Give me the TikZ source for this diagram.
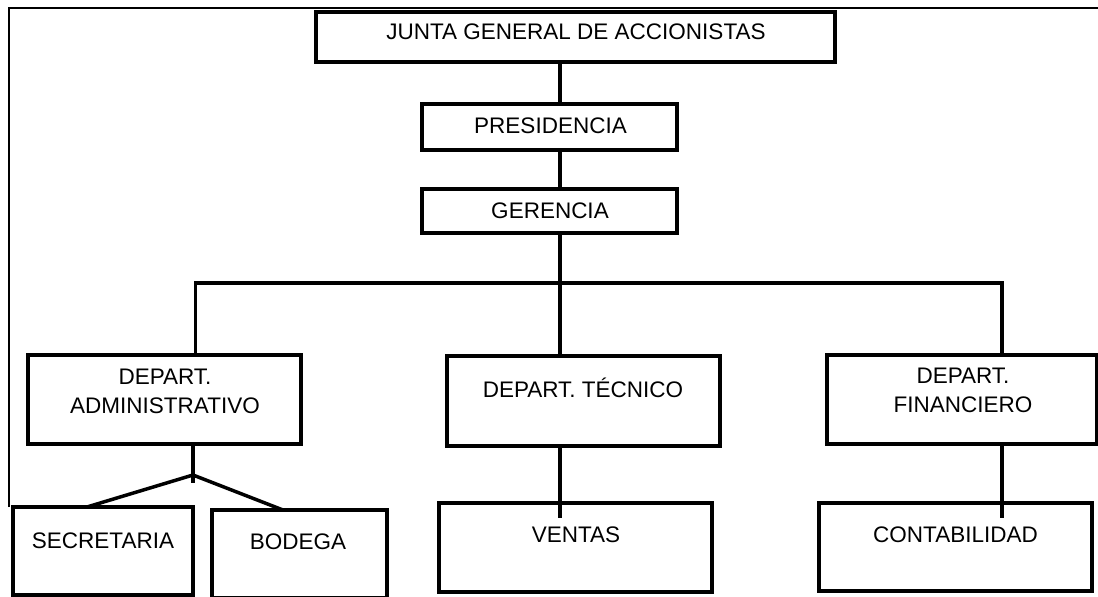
\documentclass[tikz,border=0pt]{standalone}
\usepackage{fontspec}
\setmainfont{Liberation Sans}
\begin{document}
\begin{tikzpicture}[x=1pt,y=-1pt,
  box/.style={draw,line width=3.5pt,inner sep=0pt,outer sep=0pt},
  lbl/.style={inner sep=0pt,outer sep=0pt,align=center,font=\fontsize{22.5}{29}\selectfont},
  link/.style={line width=3.5pt},
  frame/.style={line width=2pt}]
\useasboundingbox (0,0) rectangle (1098,597);
% outer frame (top and left only)
\coordinate (fTL) at (8.8,8.3);
\coordinate (fTR) at (1098,8.3);
\coordinate (fBL) at (8.8,507);
\draw[frame] (fBL) -- (fTL) -- (fTR);
% boxes
\node[box,minimum width=519pt,minimum height=50pt] (junta) at (575.5,37) {};
\node[box,minimum width=255pt,minimum height=46pt] (pres) at (549.5,127) {};
\node[box,minimum width=255pt,minimum height=44pt] (ger) at (549.5,211) {};
\node[box,minimum width=273pt,minimum height=89pt] (admin) at (164.5,399.5) {};
\node[box,minimum width=273pt,minimum height=90pt] (tec) at (583.5,401) {};
\node[box,minimum width=270pt,minimum height=89pt] (fin) at (962,399.5) {};
\node[box,minimum width=180pt,minimum height=88pt] (sec) at (103,551) {};
\node[box,minimum width=175pt,minimum height=88pt] (bod) at (299.5,554) {};
\node[box,minimum width=273pt,minimum height=89pt] (ven) at (575.5,547.5) {};
\node[box,minimum width=273pt,minimum height=88pt] (con) at (955.5,547) {};
% texts
\node[lbl] (juntaT) at (576,32) {JUNTA GENERAL DE ACCIONISTAS};
\node[lbl] (presT) at (550.5,126) {PRESIDENCIA};
\node[lbl] (gerT) at (550,211) {GERENCIA};
\node[lbl] (adminT) at (165,391.5) {DEPART.\\ADMINISTRATIVO};
\node[lbl] (tecT) at (583,388) {DEPART. TÉCNICO};
\node[lbl] (finT) at (963,390.5) {DEPART.\\FINANCIERO};
\node[lbl] (secT) at (103,541) {SECRETARIA};
\node[lbl] (bodT) at (298,542) {BODEGA};
\node[lbl] (venT) at (576,535) {VENTAS};
\node[lbl] (conT) at (955.5,535) {CONTABILIDAD};
% connector guide coordinates
\coordinate (spine) at (560,283);
\coordinate (barL) at (195.5,283);
\coordinate (barR) at (1002,283);
\coordinate (apex) at (193,475);
\coordinate (secIn) at (87,0);
\coordinate (bodIn) at (283,0);
% connectors
\draw[link] (spine |- junta.south) -- (spine |- pres.north);
\draw[link] (spine |- pres.south) -- (spine |- ger.north);
\draw[link] (spine |- ger.south) -- (spine);
\draw[link] (barL |- admin.north) -- (barL) -- (barR) -- (barR |- fin.north);
\draw[link] (spine) -- (spine |- tec.north);
\draw[link] (apex |- admin.south) -- (apex) -- ++(0,8);
\draw[link] (secIn |- sec.north) -- (apex) -- (bodIn |- bod.north);
\draw[link,shorten >=-15pt] (spine |- tec.south) -- (spine |- ven.north);
\draw[link,shorten >=-15pt] (barR |- fin.south) -- (barR |- con.north);
\end{tikzpicture}
\end{document}
